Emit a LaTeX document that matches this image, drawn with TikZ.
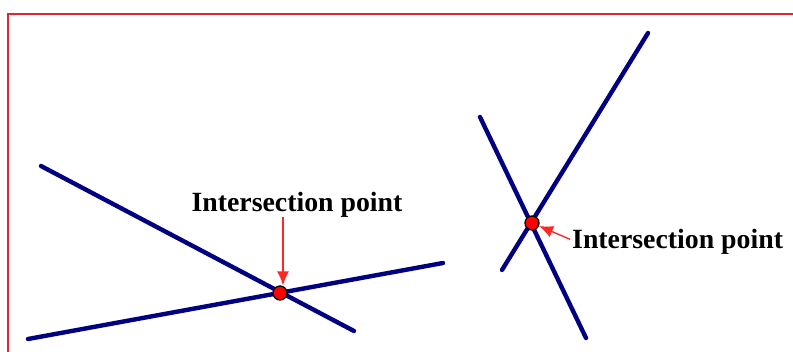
\documentclass[tikz,border=0pt]{standalone}
\usepackage{fontspec}
\setmainfont{Liberation Serif}
\usetikzlibrary{arrows.meta}
\definecolor{linenavy}{RGB}{0,0,128}
\definecolor{frame}{RGB}{220,40,50}
\tikzset{
  ln/.style={draw=linenavy, line width=4.4pt, line cap=round},
  dot/.style={circle, fill=red, draw=black, line width=1.3pt, minimum size=14pt, inner sep=0pt},
  lbl/.style={font=\bfseries\fontsize{27.8}{30}\selectfont, inner sep=0pt, text=black},
  pointer/.style={draw=red!85, line width=1.4pt, -{Latex[length=14pt,width=12pt]}},
}
\begin{document}
\begin{tikzpicture}[x=1pt,y=-1pt]
\useasboundingbox (0,0) rectangle (793,352);
\draw[frame, line width=2pt] (8,352) -- (8,14) -- (793,14);
% left figure
\coordinate (a1) at (41,166);
\coordinate (a2) at (354,331);
\coordinate (b1) at (28,339);
\coordinate (b2) at (443,263);
\draw[ln] (a1) -- (a2);
\draw[ln] (b1) -- (b2);
\node[dot] (p1) at (280,293) {};
\node[lbl, anchor=base] (t1) at (297,212) {Intersection point};
\draw[pointer] (283,217) -- (p1.north -| 283,0);
% right figure
\coordinate (c1) at (480,117);
\coordinate (c2) at (586,338);
\coordinate (d1) at (648,33);
\coordinate (d2) at (502,270);
\draw[ln] (c1) -- (c2);
\draw[ln] (d1) -- (d2);
\node[dot] (p2) at (532,223) {};
\node[lbl, anchor=base west] (t2) at (572,249) {Intersection point};
\draw[pointer] (t2.west) ++(-2,-3) -- (p2);
\end{tikzpicture}
\end{document}
